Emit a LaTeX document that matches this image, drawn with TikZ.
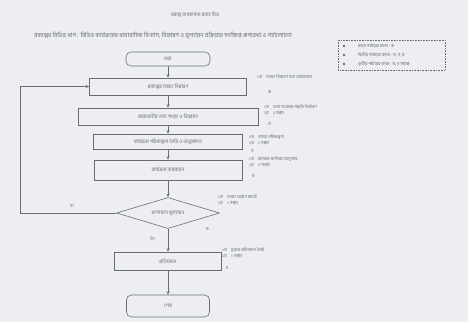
\documentclass[tikz,border=0pt]{standalone}
\usepackage{fontspec}
\newfontfamily\bnfont[Script=Bengali]{Hind Siliguri}
\usepackage{tikz}
\usetikzlibrary{shapes.geometric,arrows.meta}
\definecolor{paper}{RGB}{236,238,242}
\definecolor{ink}{RGB}{105,108,115}
\tikzset{
  procbox/.style={draw=ink, fill=paper, text=ink, inner sep=1pt, line width=0.6pt,
    font=\bnfont\fontsize{5}{6}\selectfont},
  termbox/.style={procbox, rounded corners=5pt},
  decbox/.style={procbox, diamond, aspect=3.3, inner sep=0pt},
  conn/.style={draw=ink, line width=0.6pt, -{Stealth[length=3.5pt,width=3pt]}},
  note/.style={anchor=west, text=ink, inner sep=0pt,
    font=\bnfont\fontsize{4.3}{5}\selectfont}
}

\begin{document}
\begin{tikzpicture}[x=1pt,y=-1pt]
  \fill[paper] (0,0) rectangle (468,322);
  \useasboundingbox (0,0) rectangle (468,322);

  % headings
  \node[note, anchor=center, font=\bnfont\fontsize{5}{6}\selectfont] (title) at (195,15) {প্রকল্প ব্যবস্থাপনা প্রবাহ চিত্র};
  \node[note, anchor=center, font=\bnfont\fontsize{6}{7}\selectfont] (subtitle) at (163,36)
    {প্রকল্পের বিভিন্ন ধাপ : বিভিন্ন কার্যক্রমের ধারাবাহিক বিন্যাস, বিশ্লেষণ ও মূল্যায়ন প্রক্রিয়ার সংক্ষিপ্ত রূপরেখা ও পর্যালোচনা};

  % flow
  \node[termbox, minimum width=84pt, minimum height=14pt] (start) at (168,59) {শুরু};
  \node[procbox, minimum width=157pt, minimum height=17pt] (stepA) at (168,86.5) {প্রকল্পের লক্ষ্য নির্ধারণ};
  \node[procbox, minimum width=180pt, minimum height=17pt] (stepB) at (168,116.5) {প্রয়োজনীয় তথ্য সংগ্রহ ও বিশ্লেষণ};
  \node[procbox, minimum width=149pt, minimum height=15pt] (stepC) at (168,141.5) {কার্যক্রম পরিকল্পনা তৈরি ও অনুমোদন};
  \node[procbox, minimum width=148pt, minimum height=20pt] (stepD) at (168,170) {কার্যক্রম বাস্তবায়ন};
  \node[decbox, minimum width=103pt, minimum height=31pt] (check) at (168,213) {ফলাফল মূল্যায়ন};
  \node[procbox, minimum width=107pt, minimum height=18pt] (stepE) at (168,261) {প্রতিবেদন};
  \node[termbox, minimum width=83pt, minimum height=22pt] (finish) at (168,306) {শেষ};

  \draw[conn] (start) -- (stepA);
  \draw[conn] (stepA) -- (stepB);
  \draw[conn] (stepB) -- (stepC);
  \draw[conn] (stepC) -- (stepD);
  \draw[conn] (stepD) -- (check);
  \draw[conn] (check) -- (stepE) node[note, pos=0.45, xshift=-18pt] (yes) {হ্যাঁ};
  \draw[conn] (stepE) -- (finish);

  % back loop
  \coordinate (loopbot) at (20,213);
  \coordinate (looptop) at (20,86.5);
  \draw[conn] (check.west) -- (loopbot) -- (looptop) -- (stepA.west);
  \node[note] (no) at (70,206) {না};

  % side notes
  \node[note] (na1) at (257,77) {১ম\quad লক্ষ্য নির্ধারণ সভা আয়োজন};
  \node[note] (na2) at (268,92) {ক};
  \node[note] (nb1) at (264,107) {১ম\quad তথ্য সংগ্রহের পদ্ধতি নির্ধারণ};
  \node[note] (nb2) at (264,113) {২য়\quad ২ সপ্তাহ};
  \node[note] (nb3) at (268,124) {খ};
  \node[note] (nc1) at (249,137) {১ম\quad খসড়া পরিকল্পনা};
  \node[note] (nc2) at (249,143) {২য়\quad ১ সপ্তাহ};
  \node[note] (nc3) at (251,151) {গ};
  \node[note] (nd1) at (249,159) {১ম\quad কাজের তালিকা অনুসারে};
  \node[note] (nd2) at (249,165) {২য়\quad ৩ সপ্তাহ};
  \node[note] (nd3) at (252,176) {ঘ};
  \node[note] (ne1) at (218,197) {১ম\quad লক্ষ্য অর্জন যাচাই};
  \node[note] (ne2) at (218,203) {২য়\quad ১ সপ্তাহ};
  \node[note] (ne3) at (206,229) {ঙ};
  \node[note] (nf1) at (222,250) {১ম\quad চূড়ান্ত প্রতিবেদন তৈরি};
  \node[note] (nf2) at (222,256) {২য়\quad ১ সপ্তাহ};
  \node[note] (nf3) at (226,268) {চ};

  % legend
  \draw[ink, densely dotted, line width=0.6pt] (338,40) rectangle (445,70);
  \foreach \yy/\txt in {46/{প্রথম পর্যায়ের কাজ : ক},
                        55/{দ্বিতীয় পর্যায়ের কাজ : খ, গ, ঘ},
                        64/{তৃতীয় পর্যায়ের কাজ : ঙ, চ সমাপ্ত}} {
    \fill[ink] (344,\yy) circle (1.3pt);
    \node[note] at (358,\yy) {\txt};
  }
\end{tikzpicture}
\end{document}
